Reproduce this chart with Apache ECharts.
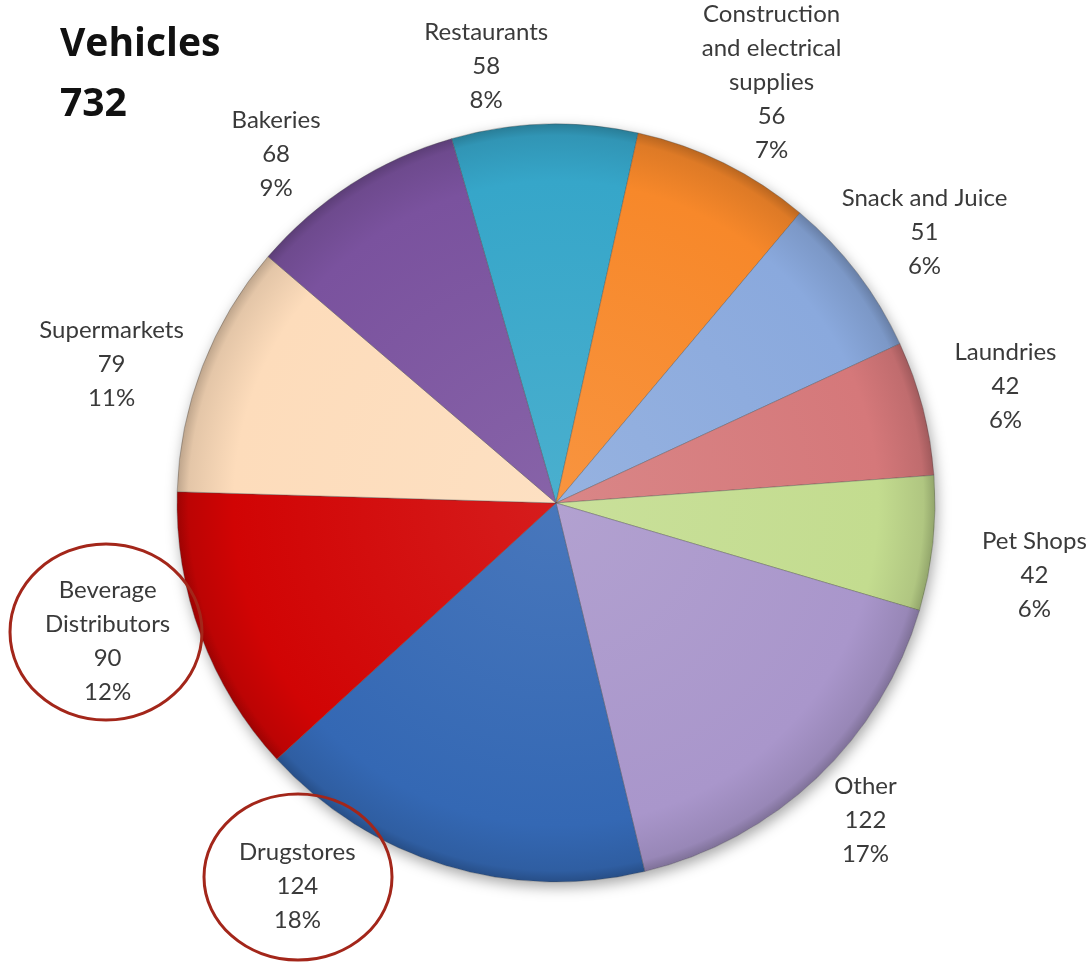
<!DOCTYPE html>
<html>
<head>
<meta charset="utf-8">
<script src="https://cdn.jsdelivr.net/npm/echarts@6/dist/echarts.min.js"></script>
<style>
  html, body { margin: 0; padding: 0; background: #ffffff; }
  #chart { width: 1090px; height: 966px; }
</style>
</head>
<body>
<div id="chart"></div>
<script>
// ---- data ----
const categories = ['Restaurants', 'Construction\nand electrical\nsupplies', 'Snack and Juice', 'Laundries', 'Pet Shops', 'Other', 'Drugstores', 'Beverage\nDistributors', 'Supermarkets', 'Bakeries'];
const values = [58, 56, 51, 42, 42, 122, 124, 90, 79, 68];
const percentLabels = ['8%', '7%', '6%', '6%', '6%', '17%', '18%', '12%', '11%', '9%'];
const titleLines = ['Vehicles', '732'];
const highlighted = ['Beverage\nDistributors', 'Drugstores'];

// ---- styles ----
const colors = ['#36a6c9', '#f7882a', '#8aa9dd', '#d5787a', '#c3dc8f', '#a996cb', '#3468b4', '#d10404', '#fddcbb', '#7a529e'];
const labelNudge = [[-56, 18], [14, -13], [7, 6], [9, -3], [26, 24], [-4, -13], [-126, -52], [-22, -21], [-20, 25], [-34, 34]];
const CX = 556, CY = 503, R = 379, LABEL_DIST = 455, START = 106;
const FONT = 'Lato, "Open Sans", sans-serif';

function shade(hex, amt) {
  const n = parseInt(hex.slice(1), 16);
  let r = (n >> 16) & 255, g = (n >> 8) & 255, b = n & 255;
  const f = v => Math.max(0, Math.min(255, Math.round(amt >= 0 ? v + (255 - v) * amt : v * (1 + amt))));
  return 'rgb(' + f(r) + ',' + f(g) + ',' + f(b) + ')';
}

const total = values.reduce((a, b) => a + b, 0);
const midAngles = [];
let acc = 0;
values.forEach(v => { midAngles.push(START - (acc + v / 2) / total * 360); acc += v; });

const data = categories.map((name, i) => ({
  name: name,
  value: values[i],
  itemStyle: {
    color: {
      type: 'radial', x: CX, y: CY, r: R, global: true,
      colorStops: [
        { offset: 0, color: shade(colors[i], 0.10) },
        { offset: 0.85, color: colors[i] },
        { offset: 0.97, color: shade(colors[i], -0.10) },
        { offset: 1, color: shade(colors[i], -0.25) }
      ]
    }
  }
}));

const chart = echarts.init(document.getElementById('chart'), null, { renderer: 'canvas' });
chart.setOption({
  backgroundColor: '#ffffff',
  animation: false,
  title: {
    text: titleLines.join('\n'),
    left: 55, top: 10,
    textStyle: { fontFamily: '"Open Sans", sans-serif', fontWeight: 'bold', fontSize: 39, lineHeight: 60, color: '#111111' }
  },
  series: [
    {
      type: 'pie', silent: true, z: 1,
      center: [CX, CY], radius: R,
      label: { show: false }, labelLine: { show: false },
      itemStyle: { color: '#ffffff', shadowBlur: 14, shadowOffsetX: 2, shadowOffsetY: 5, shadowColor: 'rgba(0,0,0,0.35)' },
      data: [{ value: 1, name: '' }]
    },
    {
      type: 'pie', z: 2,
      center: [CX, CY], radius: R,
      startAngle: START, clockwise: true,
      avoidLabelOverlap: false,
      itemStyle: { borderColor: 'rgba(70,70,70,0.35)', borderWidth: 1 },
      label: {
        show: true, position: 'outside',
        formatter: p => {
          const lines = p.name.split('\n').concat([String(p.value), percentLabels[p.dataIndex]]);
          return lines.map(l => '{t|' + l + '}').join('\n');
        },
        rich: { t: { fontFamily: FONT, fontSize: 24, lineHeight: 34, color: '#3a3a3a', align: 'center' } }
      },
      labelLine: { show: false },
      labelLayout: params => {
        const i = params.dataIndex;
        const a = midAngles[i] * Math.PI / 180;
        return {
          x: CX + LABEL_DIST * Math.cos(a) + labelNudge[i][0],
          y: CY - LABEL_DIST * Math.sin(a) + labelNudge[i][1],
          align: 'center', verticalAlign: 'middle', hideOverlap: false, moveOverlap: null
        };
      },
      data: data
    }
  ],
  graphic: [
    { type: 'ellipse', z: 10, shape: { cx: 106, cy: 632, rx: 96, ry: 88 }, style: { fill: 'none', stroke: '#a3261a', lineWidth: 3 } },
    { type: 'ellipse', z: 10, shape: { cx: 298, cy: 877, rx: 94, ry: 83 }, style: { fill: 'none', stroke: '#a3261a', lineWidth: 3 } }
  ]
});
</script>
</body>
</html>
